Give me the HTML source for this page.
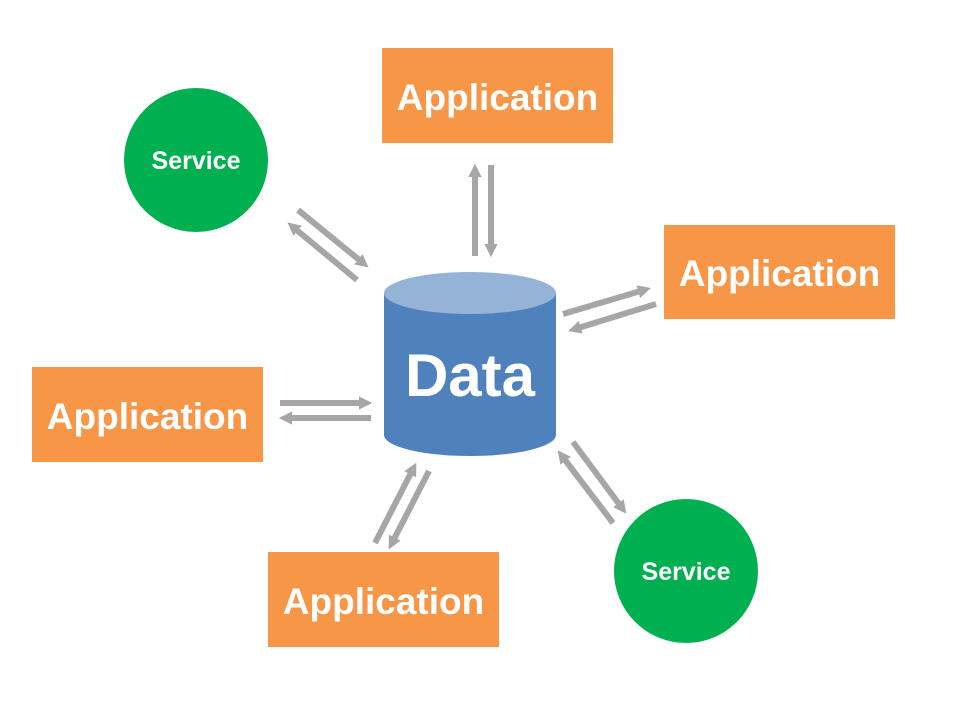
<!DOCTYPE html>
<html><head><meta charset="utf-8"><style>
html,body{margin:0;padding:0;background:#fff;width:960px;height:720px;overflow:hidden}
text{font-family:"Liberation Sans",sans-serif;font-weight:bold;fill:#fff}
</style></head><body>
<svg width="960" height="720" viewBox="0 0 960 720" xmlns="http://www.w3.org/2000/svg">
<defs>
<marker id="a" markerUnits="strokeWidth" markerWidth="2.2" markerHeight="2.2" refX="1" refY="1.1" orient="auto" viewBox="0 0 2.2 2.2">
<path d="M0,0 L2.2,1.1 L0,2.2 z" fill="#a6a6a6"/></marker>
</defs>
<rect x="382" y="48" width="231" height="95" fill="#f79646"/>
<text x="497.5" y="110" font-size="37" text-anchor="middle">Application</text>
<rect x="664" y="225" width="231" height="94" fill="#f79646"/>
<text x="779.5" y="286" font-size="37" text-anchor="middle">Application</text>
<rect x="32" y="367" width="231" height="95" fill="#f79646"/>
<text x="147.5" y="429" font-size="37" text-anchor="middle">Application</text>
<rect x="268" y="552" width="231" height="95" fill="#f79646"/>
<text x="383.5" y="614" font-size="37" text-anchor="middle">Application</text>
<circle cx="196" cy="160" r="72" fill="#00b050"/>
<text x="196" y="169" font-size="25" text-anchor="middle">Service</text>
<circle cx="686" cy="571" r="72" fill="#00b050"/>
<text x="686" y="580" font-size="25" text-anchor="middle">Service</text>
<path d="M384,293 L384,435 A86,21 0 0 0 556,435 L556,293 Z" fill="#4f81bd"/>
<ellipse cx="470" cy="293" rx="86" ry="21" fill="#95b3d7"/>
<text x="470" y="396" font-size="60" text-anchor="middle">Data</text>
<g stroke="#a6a6a6" stroke-width="6" fill="none" marker-end="url(#a)">
<line x1="475" y1="256" x2="475" y2="171"/>
<line x1="491" y1="165" x2="491" y2="250"/>
<line x1="298" y1="210" x2="363" y2="263"/>
<line x1="357" y1="280" x2="293" y2="227"/>
<line x1="563" y1="314" x2="644" y2="290"/>
<line x1="656" y1="304" x2="575" y2="329"/>
<line x1="280" y1="403" x2="365" y2="403"/>
<line x1="371" y1="418" x2="286" y2="418"/>
<line x1="375" y1="543" x2="413" y2="469"/>
<line x1="429" y1="471" x2="392" y2="543"/>
<line x1="573" y1="442" x2="622" y2="508"/>
<line x1="613" y1="523" x2="562" y2="456"/>
</g>
</svg>
</body></html>
